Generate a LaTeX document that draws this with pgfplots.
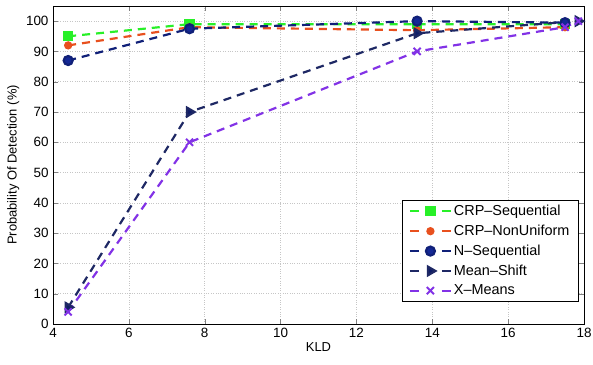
\documentclass[border=0pt]{standalone}
\usepackage{fontspec}
\setmainfont{Liberation Sans}
\usepackage{pgfplots}
\pgfplotsset{compat=1.18}
\definecolor{cgreen}{RGB}{40,240,40}
\definecolor{cred}{RGB}{232,80,30}
\definecolor{cnavy}{RGB}{20,40,150}
\definecolor{cdark}{RGB}{30,40,100}
\definecolor{cviolet}{RGB}{130,50,230}
\begin{document}
\fontsize{13}{15}\selectfont
\begin{tikzpicture}[x=1bp,y=1bp]
\begin{axis}[
  scale only axis,
  width=531bp, height=318bp,
  xmin=4, xmax=18, ymin=0, ymax=105,
  xtick={4,6,...,18}, ytick={0,10,...,100},
  tick align=inside, tick pos=both,
  major tick length=5bp,
  axis line style={line width=0.8pt},
  grid=major,
  major grid style={dotted, gray!45, line width=0.6pt},
  /pgf/number format/assume math mode=true,
  ticklabel style={font=\fontsize{13.5}{15}\selectfont},
  xlabel={KLD}, ylabel={Probability Of Detection (\%)},
  label style={font=\fontsize{13}{15}\selectfont},
  xlabel style={yshift=4bp},
  ylabel style={yshift=-2bp},
  legend style={at={(0.99,0.07)}, anchor=south east, draw=black,
    font=\fontsize{14.5}{16}\selectfont, inner xsep=7bp, inner ysep=3bp, row sep=3.5bp,
    /tikz/every even column/.append style={column sep=8bp}},
  legend cell align=left,
  legend image code/.code={
    \draw[#1, mark=none, solid, line width=2pt] (0bp,0bp) -- (9bp,0bp);
    \draw[#1, mark=none, solid, line width=2pt] (32bp,0bp) -- (41bp,0bp);
    \draw[#1, only marks] plot coordinates {(20.5bp,0bp)};
  },
]
\addplot[color=cgreen, line width=2.2pt, dash pattern=on 8bp off 6bp, mark=square*, mark size=4bp, mark options={solid}] coordinates {(4.4,95) (7.6,99) (13.6,99) (17.5,99)};
\addlegendentry{CRP--Sequential}
\addplot[color=cred, line width=2.2pt, dash pattern=on 8bp off 6bp, mark=*, mark size=3bp, mark options={solid}] coordinates {(4.4,92) (7.6,98) (13.6,97) (17.5,98)};
\addlegendentry{CRP--NonUniform}
\addplot[color=cnavy!80!black, line width=2.2pt, dash pattern=on 8bp off 6bp, mark=*, mark size=4.5bp, mark options={solid, fill=cnavy}] coordinates {(4.4,87) (7.6,97.5) (13.6,100) (17.5,99.5)};
\addlegendentry{N--Sequential}
\addplot[color=cdark, line width=2.2pt, dash pattern=on 8bp off 6bp, mark=triangle*, mark size=5bp, mark options={solid, rotate=-90, fill=cnavy!70!black}] coordinates {(4.4,5.5) (7.6,70) (13.6,96) (17.85,100)};
\addlegendentry{Mean--Shift}
\addplot[color=cviolet, line width=2.2pt, dash pattern=on 8bp off 6bp, mark=x, mark size=5bp, mark options={solid, line width=2pt}] coordinates {(4.4,4) (7.6,60) (13.6,90) (17.5,98) (17.85,100)};
\addlegendentry{X--Means}
\end{axis}
\pgfresetboundingbox
\path (current axis.south west) ++(-53bp,-41bp) rectangle ++(593bp,365bp);
\end{tikzpicture}
\end{document}
